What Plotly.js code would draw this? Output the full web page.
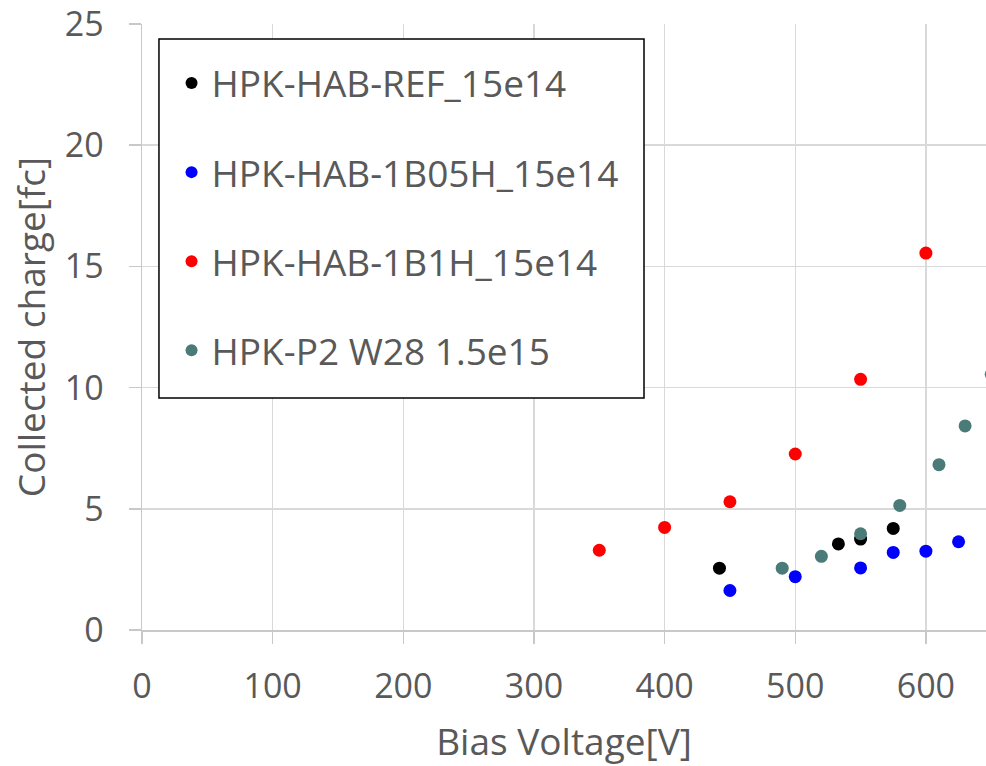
<!DOCTYPE html>
<html>
<head>
<meta charset="utf-8">
<script src="https://cdn.plot.ly/plotly-3.0.1.min.js"></script>
<style>html,body{margin:0;padding:0;background:#fff;overflow:hidden;}#chart{width:986px;height:766px;}</style>
</head>
<body>
<div id="chart"></div>
<script>
// Series names
const seriesNames = ["HPK-HAB-REF_15e14", "HPK-HAB-1B05H_15e14", "HPK-HAB-1B1H_15e14", "HPK-P2 W28 1.5e15"];

// HPK-HAB-REF_15e14
const refX = [442, 533, 550, 575];
const refY = [2.55, 3.55, 3.75, 4.19];

// HPK-HAB-1B05H_15e14
const b05X = [450, 500, 550, 575, 600, 625];
const b05Y = [1.63, 2.2, 2.56, 3.2, 3.25, 3.64];

// HPK-HAB-1B1H_15e14
const b1X = [350, 400, 450, 500, 550, 600];
const b1Y = [3.29, 4.23, 5.29, 7.26, 10.34, 15.55];

// HPK-P2 W28 1.5e15
const p2X = [490, 520, 550, 580, 610, 630, 650];
const p2Y = [2.55, 3.04, 3.97, 5.14, 6.82, 8.42, 10.55];

// Tick values / labels
const xTicks = [0, 100, 200, 300, 400, 500, 600];
const xTickText = ["0", "100", "200", "300", "400", "500", "600"];
const yTicks = [0, 5, 10, 15, 20, 25];
const yTickText = ["0", "5", "10", "15", "20", "25"];

const colors = ["#000000", "#0000ff", "#ff0000", "#4a7b79"];
const xs = [refX, b05X, b1X, p2X];
const ys = [refY, b05Y, b1Y, p2Y];

const traces = seriesNames.map((n, i) => ({
  type: "scatter",
  mode: "markers",
  name: n,
  x: xs[i],
  y: ys[i],
  legendgroup: "g" + i,
  marker: {color: colors[i], size: 13},
  cliponaxis: true
}));

const textColor = "#595959";
const fontFam = "'Open Sans', 'Noto Sans', sans-serif";

const layout = {
  width: 986,
  height: 766,
  margin: {l: 142, r: 0, t: 24, b: 136},
  paper_bgcolor: "#ffffff",
  plot_bgcolor: "#ffffff",
  font: {family: fontFam, color: textColor, size: 34},
  showlegend: true,
  legend: {
    x: 0.035, y: 0.953, xanchor: "left", yanchor: "top",
    bgcolor: "rgba(0,0,0,0)",
    borderwidth: 0,
    font: {family: fontFam, color: textColor, size: 37},
    traceorder: "grouped",
    tracegroupgap: 38,
    itemsizing: "constant"
  },
  shapes: [{
    type: "rect", xref: "paper", yref: "paper",
    x0: 0.0201, x1: 0.5948, y0: 0.3828, y1: 0.9752,
    fillcolor: "#ffffff",
    line: {color: "#000000", width: 1.5},
    layer: "above"
  }],
  xaxis: {
    range: [0, 646],
    tickvals: xTicks,
    ticktext: xTickText,
    showgrid: true,
    gridcolor: "#d9d9d9",
    gridwidth: 1.5,
    zeroline: false,
    showline: true,
    linecolor: "#c8c8c8",
    linewidth: 1.5,
    ticks: "outside",
    ticklen: 12,
    tickcolor: "#c8c8c8",
    tickwidth: 1.5,
    ticklabelstandoff: 14,
    ticklabeloverflow: "allow",
    tickfont: {family: fontFam, color: textColor, size: 34},
    title: {text: "Bias Voltage[V]", font: {family: fontFam, color: textColor, size: 37}, standoff: 24},
    automargin: false
  },
  yaxis: {
    range: [0, 25],
    tickvals: yTicks,
    ticktext: yTickText,
    showgrid: true,
    gridcolor: "#d9d9d9",
    gridwidth: 1.5,
    zeroline: false,
    showline: true,
    linecolor: "#c8c8c8",
    linewidth: 1.5,
    ticks: "outside",
    ticklen: 12,
    tickcolor: "#c8c8c8",
    tickwidth: 1.5,
    ticklabelstandoff: 18,
    ticklabeloverflow: "allow",
    tickfont: {family: fontFam, color: textColor, size: 34},
    title: {text: "Collected charge[fc]", font: {family: fontFam, color: textColor, size: 37}, standoff: 8},
    automargin: false
  }
};

Plotly.newPlot("chart", traces, layout, {staticPlot: true, displayModeBar: false});
</script>
</body>
</html>
